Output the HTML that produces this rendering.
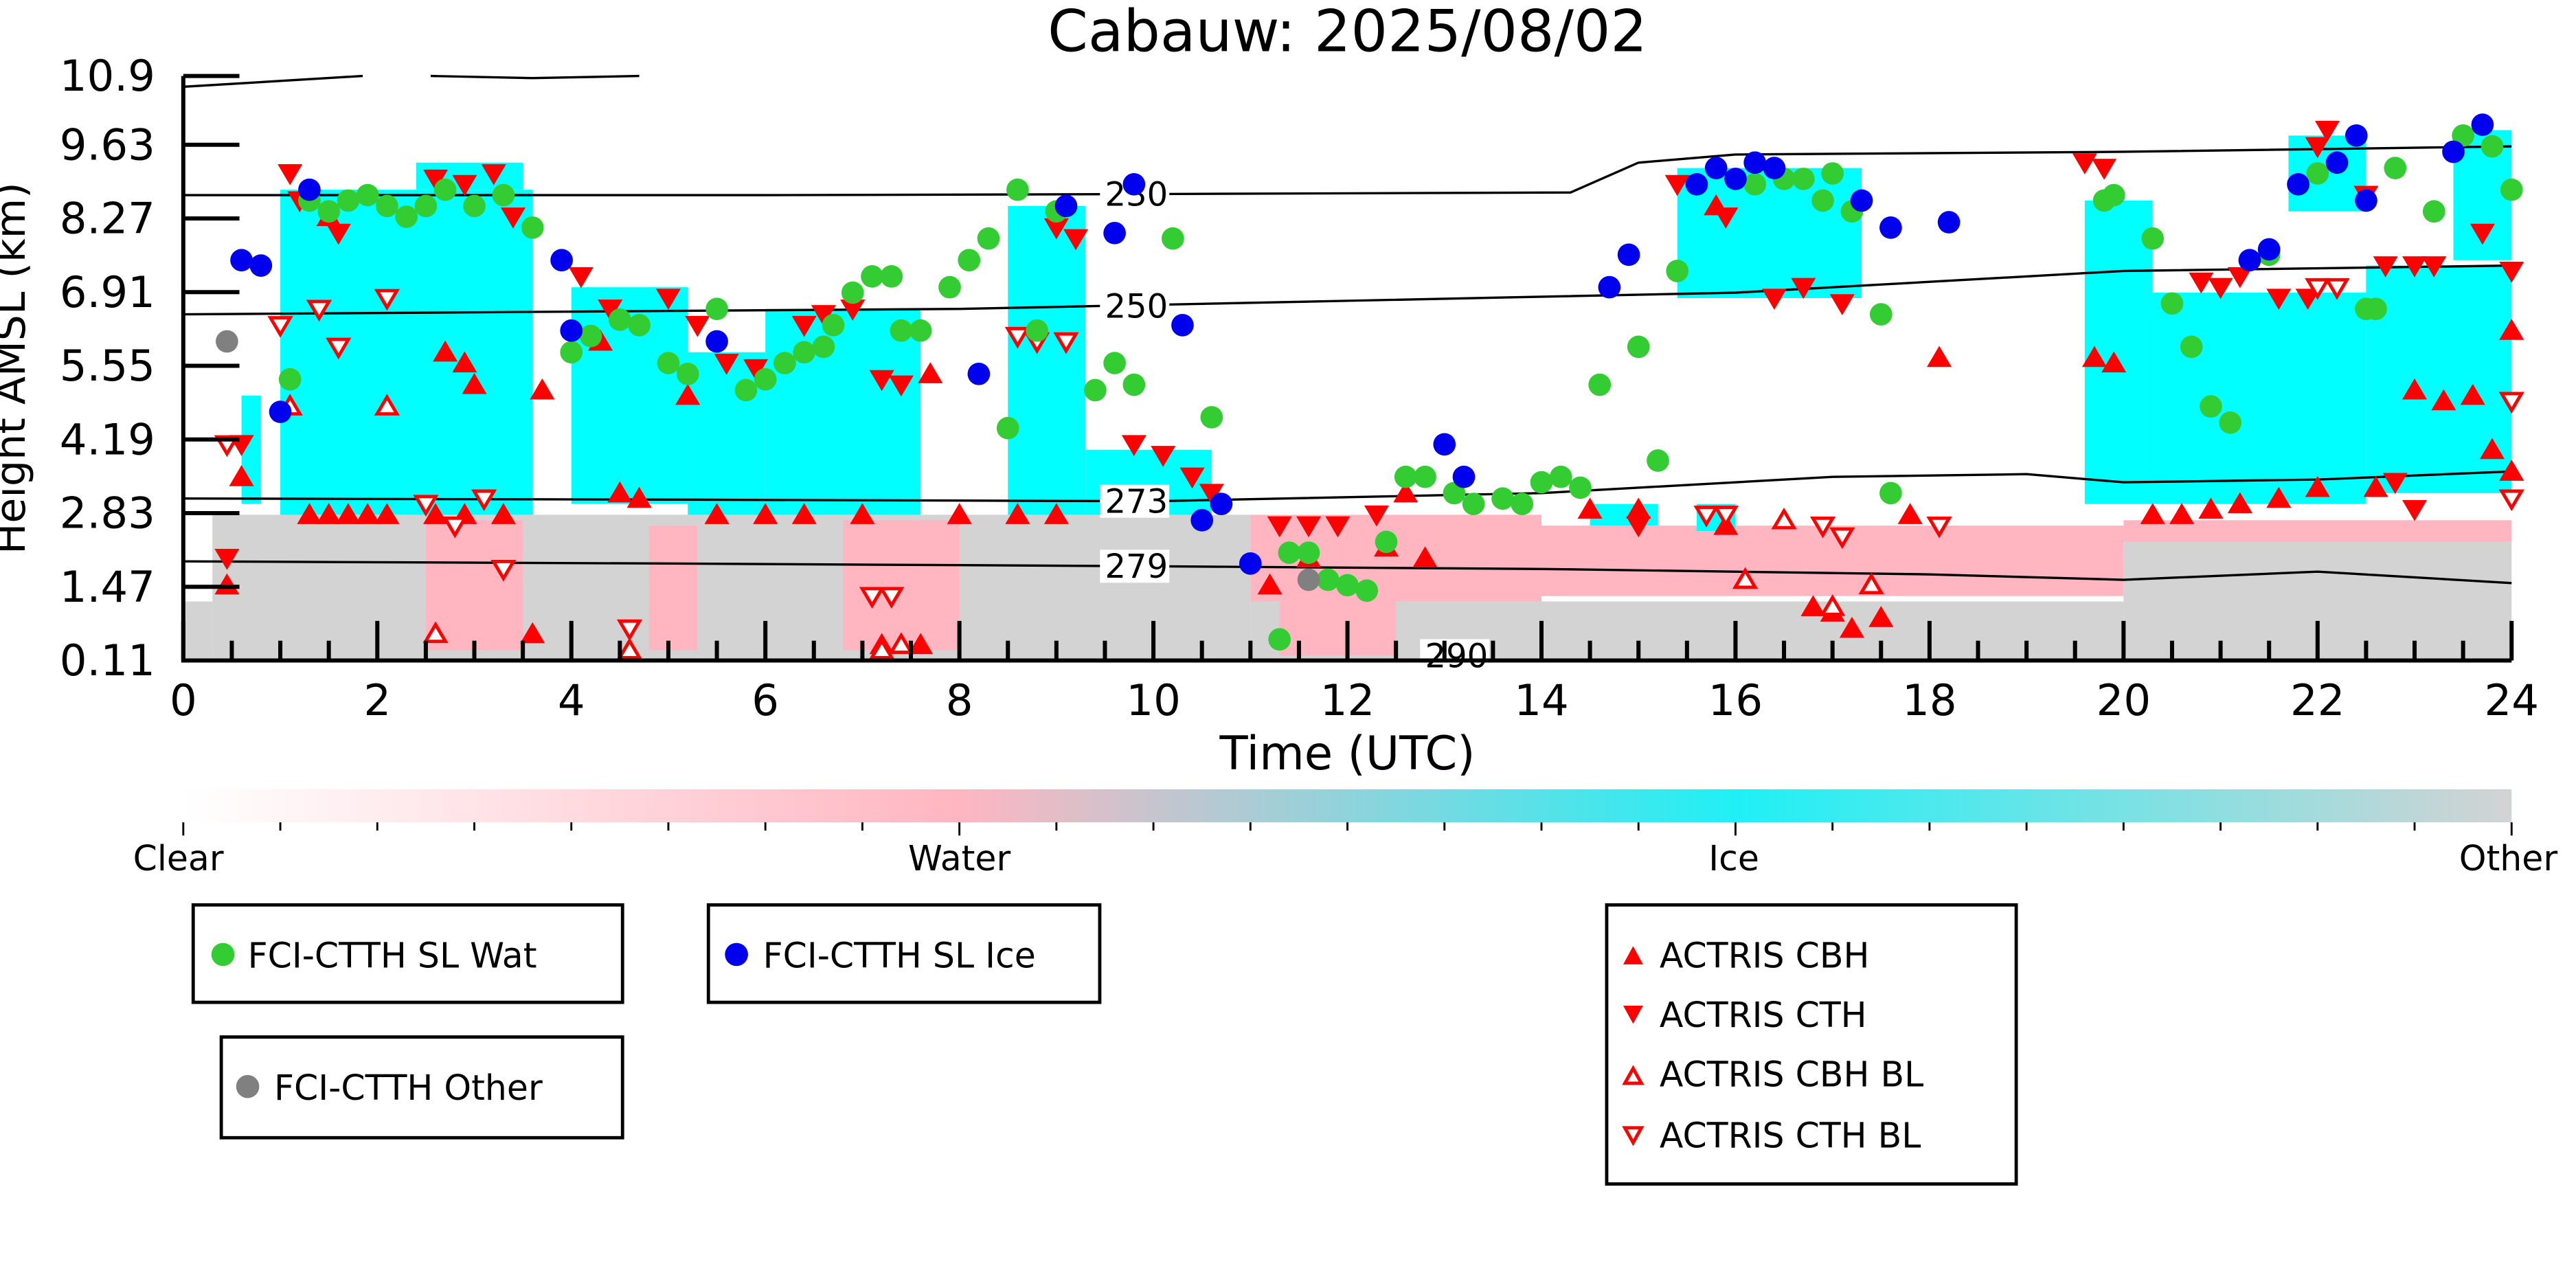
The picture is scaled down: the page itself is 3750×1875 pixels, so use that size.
<!DOCTYPE html>
<html><head><meta charset="utf-8"><style>
html,body{margin:0;padding:0;background:#fff;}
svg{display:block;font-family:"DejaVu Sans","Liberation Sans",sans-serif;}
</style></head><body>
<svg id="chart" xmlns="http://www.w3.org/2000/svg" width="3750" height="1875" viewBox="0 0 1560 780">
<defs>
<linearGradient id="cbg" x1="0" x2="1" y1="0" y2="0">
<stop offset="0" stop-color="#ffffff"/><stop offset="0.333" stop-color="#ffb6c1"/>
<stop offset="0.667" stop-color="#1ff0f5"/><stop offset="1" stop-color="#d3d3d3"/>
</linearGradient>
</defs>
<text x="816" y="31" font-size="35" text-anchor="middle">Cabauw: 2025/08/02</text>
<g id="mask"></g>
<g id="contours"></g>
<g id="marks"></g>
<g id="axes"></g>
<text x="816" y="466" font-size="28" text-anchor="middle">Time (UTC)</text>
<text transform="translate(15,223) rotate(-90)" font-size="25" text-anchor="middle">Height AMSL (km)</text>
<g>
<rect x="111" y="478" width="1410" height="20" fill="url(#cbg)"/>
<g id="cbticks"></g>
<text x="108" y="527" font-size="21" text-anchor="middle">Clear</text>
<text x="581" y="527" font-size="21" text-anchor="middle">Water</text>
<text x="1050" y="527" font-size="21" text-anchor="middle">Ice</text>
<text x="1519" y="527" font-size="21" text-anchor="middle">Other</text>
</g>
<g>
<rect x="117" y="548" width="260" height="59" fill="#fff" stroke="#000" stroke-width="2"/>
<circle cx="135" cy="578" r="7" fill="#33cc33"/><text x="150" y="586" font-size="21">FCI-CTTH SL Wat</text></g>
<g>
<rect x="429" y="548" width="237" height="59" fill="#fff" stroke="#000" stroke-width="2"/>
<circle cx="446" cy="578" r="7" fill="#0000ee"/><text x="462" y="586" font-size="21">FCI-CTTH SL Ice</text></g>
<g>
<rect x="134" y="628" width="243" height="61" fill="#fff" stroke="#000" stroke-width="2"/>
<circle cx="150" cy="658" r="7" fill="#808080"/><text x="166" y="666" font-size="21">FCI-CTTH Other</text></g>
<g>
<rect x="973" y="548" width="248" height="169" fill="#fff" stroke="#000" stroke-width="2"/>
<path d="M983,584 L989,573 L995,584Z" fill="#ff0000"/><text x="1005" y="586" font-size="21">ACTRIS CBH</text>
<path d="M983,609 L989,620 L995,609Z" fill="#ff0000"/><text x="1005" y="622" font-size="21">ACTRIS CTH</text>
<path d="M984,656 L989,647 L994,656Z" fill="#fff" stroke="#ff0000" stroke-width="2"/><text x="1005" y="658" font-size="21">ACTRIS CBH BL</text>
<path d="M984,683 L989,692 L994,683Z" fill="#fff" stroke="#ff0000" stroke-width="2"/><text x="1005" y="695" font-size="21">ACTRIS CTH BL</text>
</g>
<script>
const ytickLabels=["0.11","1.47","2.83","4.19","5.55","6.91","8.27","9.63","10.9"];
const ytickValues=[0.11,1.47,2.83,4.19,5.55,6.91,8.27,9.63,10.9];
const xtickValues=[0,2,4,6,8,10,12,14,16,18,20,22,24];
// cloud mask segments: [t0,t1,hBottom,hTop,class]
const maskSegs=[
[0,0.3,0.11,1.2,"o"],[0.3,11,0.11,2.8,"o"],[11,14,0.11,1.2,"o"],[14,20,0.11,1.2,"o"],[20,24,0.11,2.5,"o"],
[2.5,3.5,0.3,2.7,"w"],[4.8,5.3,0.3,2.6,"w"],[6.8,8,0.3,2.7,"w"],[11,14,1.2,2.8,"w"],[14,20,1.3,2.6,"w"],[20,24,2.3,2.7,"w"],[11.3,12.5,0.2,1.2,"w"],
[0.6,0.8,3.0,5.0,"i"],[1.0,3.6,2.8,8.8,"i"],[2.4,3.5,8.8,9.3,"i"],[4.0,5.2,3.0,7.0,"i"],[5.2,6.0,2.8,5.8,"i"],[6.0,7.6,2.8,6.6,"i"],
[8.5,9.3,2.8,8.5,"i"],[9.3,10.6,2.8,4.0,"i"],[14.5,15.2,2.6,3.0,"i"],[15.4,17.3,6.8,9.2,"i"],[15.6,16.0,2.5,3.0,"i"],
[19.6,20.3,3.0,8.6,"i"],[20.3,22.5,3.0,6.9,"i"],[22.5,24,3.2,7.4,"i"],[21.7,22.5,8.4,9.8,"i"],[23.4,24,7.5,9.9,"i"]
];
// isotherm contours
const c230T=[0,6,10,14.3,15,16,20,24], c230H=[8.7,8.7,8.72,8.75,9.3,9.45,9.5,9.6];
const c250T=[0,4,8,12,16,20,24], c250H=[6.5,6.55,6.6,6.75,6.9,7.3,7.4];
const c273T=[0,5,10,14,17,19,20,22,24], c273H=[3.1,3.08,3.05,3.2,3.5,3.55,3.4,3.45,3.6];
const c279T=[0,5,10,14,18,20,22,24], c279H=[1.94,1.9,1.85,1.8,1.7,1.6,1.75,1.54];
const cTopT=[0,1.85], cTopH=[10.7,10.9];
const cTop2T=[2.55,3.6,4.7], cTop2H=[10.9,10.86,10.9];
const contourLabels=["230","250","273","279","290"], contourLabelT=[9.5,9.5,9.5,9.5,12.8], contourLabelH=[8.72,6.65,3.05,1.85,0.2];
// markers
const watT=[1.1,1.3,1.5,1.7,1.9,2.1,2.3,2.5,2.7,3.0,3.3,3.6,4.0,4.2,4.5,4.7,5.0,5.2,5.5,5.8,6.0,6.2,6.4,6.6,6.7,6.9,7.1,7.3,7.4,7.6,7.9,8.1,8.3,8.6,9.0,8.8,8.5,9.4,9.6,9.8,10.2,10.6,11.3,11.4,11.6,11.8,12.0,12.2,12.4,12.6,12.8,13.1,13.3,13.6,13.8,14.0,14.2,14.4,14.6,15.0,15.2,15.4,16.2,16.5,16.7,16.9,17.0,17.2,17.5,17.6,19.8,19.9,20.3,20.5,20.7,20.9,21.1,21.5,22.0,22.5,22.6,22.8,23.2,23.5,23.8,24.0];
const watH=[5.3,8.6,8.4,8.6,8.7,8.5,8.3,8.5,8.8,8.5,8.7,8.1,5.8,6.1,6.4,6.3,5.6,5.4,6.6,5.1,5.3,5.6,5.8,5.9,6.3,6.9,7.2,7.2,6.2,6.2,7.0,7.5,7.9,8.8,8.4,6.2,4.4,5.1,5.6,5.2,7.9,4.6,0.5,2.1,2.1,1.6,1.5,1.4,2.3,3.5,3.5,3.2,3.0,3.1,3.0,3.4,3.5,3.3,5.2,5.9,3.8,7.3,8.9,9.0,9.0,8.6,9.1,8.4,6.5,3.2,8.6,8.7,7.9,6.7,5.9,4.8,4.5,7.6,9.1,6.6,6.6,9.2,8.4,9.8,9.6,8.8];
const iceT=[0.6,0.8,1.0,1.3,3.9,4.0,5.5,8.2,9.1,9.6,9.8,10.3,10.5,10.7,11.0,13.0,13.2,14.7,14.9,15.6,15.8,16.0,16.2,16.4,17.3,17.6,18.2,21.3,21.5,21.8,22.2,22.4,22.5,23.4,23.7];
const iceH=[7.5,7.4,4.7,8.8,7.5,6.2,6.0,5.4,8.5,8.0,8.9,6.3,2.7,3.0,1.9,4.1,3.5,7.0,7.6,8.9,9.2,9.0,9.3,9.2,8.6,8.1,8.2,7.5,7.7,8.9,9.3,9.8,8.6,9.5,10.0];
const othT=[0.45,11.6], othH=[6.0,1.6];
const cbhT=[0.45,0.6,1.3,1.5,1.7,1.9,2.1,2.6,2.9,3.3,3.6,4.5,4.7,5.5,6.0,6.4,7.0,7.2,7.4,7.6,8.0,8.6,9.0,11.2,11.6,12.4,12.6,14.5,15.0,15.9,16.8,17.0,17.2,17.5,17.8,18.1,19.7,19.9,20.3,20.6,20.9,21.2,21.6,22.0,22.6,23.0,23.3,23.6,23.8,24.0,24.0,2.7,3.0,2.9,3.7,4.3,5.2,1.5,7.7,12.8,15.8];
const cbhH=[1.5,3.5,2.8,2.8,2.8,2.8,2.8,2.8,2.8,2.8,0.6,3.2,3.1,2.8,2.8,2.8,2.8,0.4,0.4,0.4,2.8,2.8,2.8,1.5,2.0,2.2,3.2,2.9,2.9,2.6,1.1,1.0,0.7,0.9,2.8,5.7,5.7,5.6,2.8,2.8,2.9,3.0,3.1,3.3,3.3,5.1,4.9,5.0,4.0,3.6,6.2,5.8,5.2,5.6,5.1,6.0,5.0,8.3,5.4,2.0,8.5];
const cthT=[0.45,0.6,1.1,1.2,1.6,2.6,2.9,3.2,3.4,4.1,4.4,5.0,5.3,5.6,5.9,6.4,6.6,6.9,7.2,7.4,9.0,9.2,9.8,10.1,10.4,10.6,11.3,11.6,11.9,12.3,15.0,15.4,15.9,16.4,16.7,17.1,19.6,19.8,20.8,21.0,21.2,21.6,21.9,22.0,22.1,22.5,22.7,23.0,23.2,23.7,24.0,23.0,22.8];
const cthH=[2.0,4.1,9.1,8.6,8.0,9.0,8.9,9.1,8.3,7.2,6.6,6.8,6.3,5.6,5.5,6.3,6.5,6.6,5.3,5.2,8.1,7.9,4.1,3.9,3.5,3.2,2.6,2.6,2.6,2.8,2.6,8.9,8.3,6.8,7.0,6.7,9.3,9.2,7.1,7.0,7.2,6.8,6.8,9.6,9.9,8.7,7.4,7.4,7.4,8.0,7.3,2.9,3.4];
const cbhBlT=[1.1,2.1,2.6,7.2,7.4,4.6,17.4,16.1,16.5,17.0];
const cbhBlH=[4.8,4.8,0.6,0.3,0.4,0.3,1.5,1.6,2.7,1.1];
const cthBlT=[0.45,1.0,1.4,1.6,2.1,2.5,2.8,3.1,3.3,4.6,7.1,7.3,8.6,8.8,9.1,15.7,15.9,16.9,17.1,18.1,22.0,22.2,24.0,24.0];
const cthBlH=[4.1,6.3,6.6,5.9,6.8,3.0,2.6,3.1,1.8,0.7,1.3,1.3,6.1,6.0,6.0,2.8,2.8,2.6,2.4,2.6,7.0,7.0,4.9,3.1];

const NS="http://www.w3.org/2000/svg";
const X0=111,X1=1521,Y0=400,Y1=46,HMIN=0.11,HMAX=10.9;
function xs(t){return X0+(t/24)*(X1-X0);}
function ys(h){return Y0-(h-HMIN)/(HMAX-HMIN)*(Y0-Y1);}
function mk(tag,parent){const e=document.createElementNS(NS,tag);parent.appendChild(e);return e;}
const gMask=document.getElementById('mask'),gC=document.getElementById('contours'),gM=document.getElementById('marks'),gA=document.getElementById('axes');
const maskCol={o:"#d3d3d3",w:"#ffb6c1",i:"#00ffff"};
maskSegs.forEach(s=>{
  const r=mk('rect',gMask);
  
  
  r.setAttribute('x',xs(s[0]));r.setAttribute('width',xs(s[1])-xs(s[0]));
  r.setAttribute('y',ys(s[3]));r.setAttribute('height',ys(s[2])-ys(s[3]));
  r.setAttribute('fill',maskCol[s[4]]);
});
function line(T,H,name){
  const p=mk('polyline',gC);
  
  
  p.setAttribute('points',T.map((t,i)=>xs(t)+','+ys(H[i])).join(' '));
  p.setAttribute('fill','none');p.setAttribute('stroke','#000');p.setAttribute('stroke-width','1.4');
}
line(c230T,c230H,'contour-230');line(c250T,c250H,'contour-250');line(c273T,c273H,'contour-273');
line(c279T,c279H,'contour-279');line(cTopT,cTopH,'contour-top');line(cTop2T,cTop2H,'contour-top-2');
contourLabels.forEach((l,i)=>{
  const r=mk('rect',gC);
  
  
  r.setAttribute('x',xs(contourLabelT[i])-3);r.setAttribute('y',ys(contourLabelH[i])-10);r.setAttribute('width',42);r.setAttribute('height',20);r.setAttribute('fill','#fff');
  const t=mk('text',gC);
  
  
  t.setAttribute('x',xs(contourLabelT[i]));t.setAttribute('y',ys(contourLabelH[i])+7);t.setAttribute('font-size','20');t.textContent=l;
});
function circles(T,H,col,name){T.forEach((t,i)=>{
  const c=mk('circle',gM);
  
  
  c.setAttribute('cx',xs(t));c.setAttribute('cy',ys(H[i]));c.setAttribute('r','6.8');c.setAttribute('fill',col);});}
function tris(T,H,up,open,name){T.forEach((t,i)=>{
  const x=xs(t),y=ys(H[i]),s=open?6:7.5;
  const d=up?`M${x-s},${y+s*0.75} L${x},${y-s*0.95} L${x+s},${y+s*0.75}Z`:`M${x-s},${y-s*0.75} L${x},${y+s*0.95} L${x+s},${y-s*0.75}Z`;
  const p=mk('path',gM);
  
  
  p.setAttribute('d',d);
  if(open){p.setAttribute('fill','#fff');p.setAttribute('stroke','#ff0000');p.setAttribute('stroke-width','2');}else p.setAttribute('fill','#ff0000');});}
tris(cbhT,cbhH,true,false,'actris-cbh-marker');
tris(cthT,cthH,false,false,'actris-cth-marker');
tris(cbhBlT,cbhBlH,true,true,'actris-cbh-bl-marker');
tris(cthBlT,cthBlH,false,true,'actris-cth-bl-marker');
circles(watT,watH,'#33cc33','sl-wat-point');
circles(iceT,iceH,'#0000ee','sl-ice-point');
circles(othT,othH,'#808080','other-point');
// axes
const ax=mk('path',gA);


ax.setAttribute('d',`M${X0},${Y1} L${X0},${Y0} L${X1},${Y0}`);ax.setAttribute('fill','none');ax.setAttribute('stroke','#000');ax.setAttribute('stroke-width','2.5');
ytickValues.forEach((v,i)=>{
  const l=mk('line',gA);
  
  
  l.setAttribute('x1',X0);l.setAttribute('x2',X0+34);l.setAttribute('y1',ys(v));l.setAttribute('y2',ys(v));l.setAttribute('stroke','#000');l.setAttribute('stroke-width','2.5');
  const t=mk('text',gA);
  
  
  t.setAttribute('x',X0-17);t.setAttribute('y',ys(v)+9);t.setAttribute('font-size','26');t.setAttribute('text-anchor','end');t.textContent=ytickLabels[i];
});
for(let t=0;t<=24;t+=0.5){
  const major=(t%2===0);
  const l=mk('line',gA);
  
  
  l.setAttribute('x1',xs(t));l.setAttribute('x2',xs(t));l.setAttribute('y1',Y0);l.setAttribute('y2',Y0-(major?24:12));l.setAttribute('stroke','#000');l.setAttribute('stroke-width','2.5');
}
xtickValues.forEach(v=>{
  const t=mk('text',gA);
  
  
  t.setAttribute('x',xs(v));t.setAttribute('y',433);t.setAttribute('font-size','26');t.setAttribute('text-anchor','middle');t.textContent=v;
});
const gcb=document.getElementById('cbticks');
for(let i=0;i<=24;i++){
  const l=mk('line',gcb);
  
  
  const x=111+i*1410/24;
  l.setAttribute('x1',x);l.setAttribute('x2',x);l.setAttribute('y1',498);l.setAttribute('y2',i%8===0?506:503);l.setAttribute('stroke','#000');l.setAttribute('stroke-width','1.2');
}
</script>
</svg>
</body></html>
